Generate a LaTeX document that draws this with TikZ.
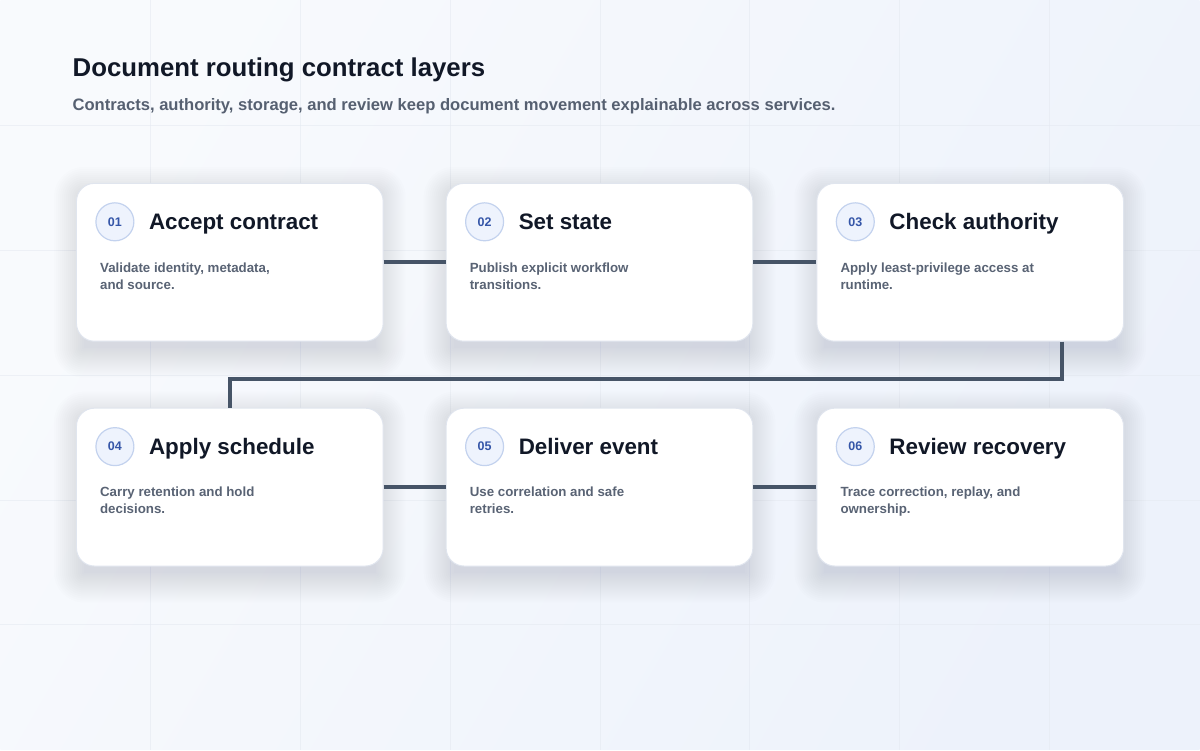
\documentclass[tikz,border=0pt]{standalone}
\usepackage{fontspec}
\setmainfont{Liberation Sans}
\usetikzlibrary{positioning,calc}
\definecolor{bgtop}{HTML}{F8FAFD}
\definecolor{bgbot}{HTML}{EDF2FB}
\definecolor{gridc}{HTML}{E4E9F1}
\definecolor{ink}{HTML}{111827}
\definecolor{subink}{HTML}{566071}
\definecolor{descink}{HTML}{596374}
\definecolor{cardline}{HTML}{E0E5EE}
\definecolor{badgefill}{HTML}{EEF3FD}
\definecolor{badgeline}{HTML}{C3D2EE}
\definecolor{badgeink}{HTML}{3556A8}
\definecolor{wire}{HTML}{465467}
\definecolor{shadowc}{HTML}{2A3A66}
\pgfdeclarelayer{backdrop}
\pgfdeclarelayer{shade}
\pgfsetlayers{backdrop,shade,main}

\begin{document}
\begin{tikzpicture}[x=1pt,y=-1pt,
    card/.style={draw=cardline,line width=1pt,fill=white,rounded corners=18pt,
        minimum width=307pt,minimum height=158pt,inner sep=0pt},
    badge/.style={circle,draw=badgeline,fill=badgefill,line width=1.2pt,minimum size=38pt,
        inner sep=0pt,text=badgeink,font=\fontsize{12.5}{12.5}\selectfont\bfseries},
    cardtitle/.style={anchor=base west,inner sep=0pt,text=ink,font=\fontsize{22.4}{26}\selectfont\bfseries},
    carddesc/.style={anchor=north west,inner sep=0pt,align=left,text=descink,font=\fontsize{13.3}{17}\selectfont\bfseries},
    wireline/.style={draw=wire,line width=4pt}]
    % background and grid
    \begin{pgfonlayer}{backdrop}
    \shade[left color=bgtop,right color=bgbot,shading angle=60] (0,0) rectangle (1200,750);
    \foreach \gx in {150,300,...,1050} \draw[gridc,opacity=0.55,line width=1pt] (\gx,0)--(\gx,750);
    \foreach \gy in {125,250,...,625} \draw[gridc,opacity=0.55,line width=1pt] (0,\gy)--(1200,\gy);
    \end{pgfonlayer}
    \useasboundingbox (0,0) rectangle (1200,750);
    % header
    \node[anchor=base west,inner sep=0pt,text=ink,font=\fontsize{25.8}{30}\selectfont\bfseries] (title) at (72,76) {Document routing contract layers};
    \node[anchor=base west,inner sep=0pt,text=subink,font=\fontsize{16.6}{20}\selectfont\bfseries] (subtitle) at (72,110) {Contracts, authority, storage, and review keep document movement explainable across services.};
    % cards
    \node[card] (c1) at (229.5,262) {};
    \node[card] (c2) at (599.5,262) {};
    \node[card] (c3) at (970.5,262) {};
    \node[card] (c4) at (229.5,487) {};
    \node[card] (c5) at (599.5,487) {};
    \node[card] (c6) at (970.5,487) {};
    % soft shadows under the cards
    \begin{pgfonlayer}{shade}
    \foreach \c in {c1,c2,c3,c4,c5,c6}
        \foreach \k [evaluate=\k as \r using 14+\k] in {0,2,...,30}
            \fill[shadowc,opacity=0.0065,rounded corners=\r pt]
                ($(\c.north west)+(8-\k,14-\k)$) rectangle ($(\c.south east)+(\k-8,6+\k)$);
    \end{pgfonlayer}
    % connectors
    \draw[wireline] (c1.east)--(c2.west);
    \draw[wireline] (c2.east)--(c3.west);
    \coordinate (turn) at (0,379);
    \draw[wireline] ([xshift=92pt]c3.south) |- (turn -| c4.north) -- (c4.north);
    \draw[wireline] (c4.east)--(c5.west);
    \draw[wireline] (c5.east)--(c6.west);
    % card contents
    \node[badge] (b1) at ($(c1.north west)+(39,39)$) {01};
    \node[cardtitle] (t1) at ($(c1.north west)+(73,47)$) {Accept contract};
    \node[carddesc] (d1) at ($(c1.north west)+(24,79.5)$) {Validate identity, metadata,\\and source.};
    \node[badge] (b2) at ($(c2.north west)+(39,39)$) {02};
    \node[cardtitle] (t2) at ($(c2.north west)+(73,47)$) {Set state};
    \node[carddesc] (d2) at ($(c2.north west)+(24,79.5)$) {Publish explicit workflow\\transitions.};
    \node[badge] (b3) at ($(c3.north west)+(39,39)$) {03};
    \node[cardtitle] (t3) at ($(c3.north west)+(73,47)$) {Check authority};
    \node[carddesc] (d3) at ($(c3.north west)+(24,79.5)$) {Apply least-privilege access at\\runtime.};
    \node[badge] (b4) at ($(c4.north west)+(39,39)$) {04};
    \node[cardtitle] (t4) at ($(c4.north west)+(73,47)$) {Apply schedule};
    \node[carddesc] (d4) at ($(c4.north west)+(24,79.5)$) {Carry retention and hold\\decisions.};
    \node[badge] (b5) at ($(c5.north west)+(39,39)$) {05};
    \node[cardtitle] (t5) at ($(c5.north west)+(73,47)$) {Deliver event};
    \node[carddesc] (d5) at ($(c5.north west)+(24,79.5)$) {Use correlation and safe\\retries.};
    \node[badge] (b6) at ($(c6.north west)+(39,39)$) {06};
    \node[cardtitle] (t6) at ($(c6.north west)+(73,47)$) {Review recovery};
    \node[carddesc] (d6) at ($(c6.north west)+(24,79.5)$) {Trace correction, replay, and\\ownership.};
\end{tikzpicture}
\end{document}
